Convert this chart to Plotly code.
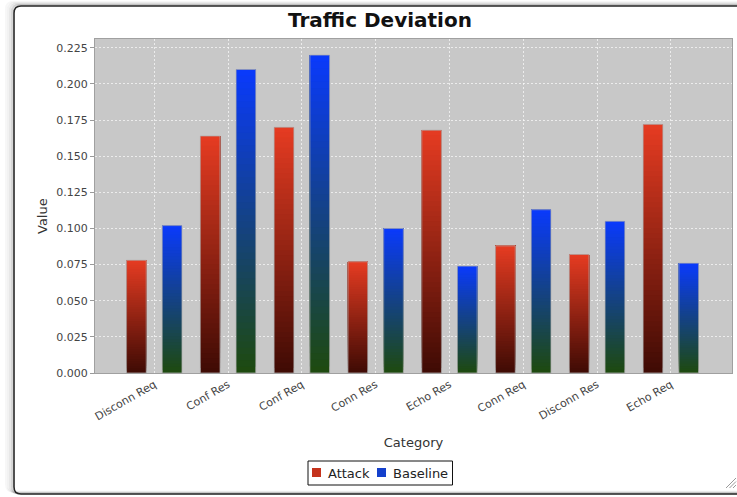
import plotly.graph_objects as go

# ---------------- data ----------------
categories = ["Disconn Req", "Conf Res", "Conf Req", "Conn Res",
              "Echo Res", "Conn Req", "Disconn Res", "Echo Req"]
attack = [0.078, 0.164, 0.170, 0.077, 0.168, 0.088, 0.082, 0.172]
baseline = [0.102, 0.210, 0.220, 0.100, 0.074, 0.113, 0.105, 0.076]
series_names = ["Attack", "Baseline"]

# ---------------- style ----------------
W, H = 737, 497
ML, MR, MT, MB = 95, 5, 39, 124
PW, PH = W - ML - MR, H - MT - MB
FONT = "DejaVu Sans"

grad = {
    "Attack": ((62, 10, 4), (230, 60, 34)),      # bottom, top
    "Baseline": ((30, 74, 14), (10, 58, 252)),
}
offsets = {"Attack": -0.376, "Baseline": 0.108}
BAR_W = 0.267
NSEG = 48


def lerp(c0, c1, t):
    return "rgb(%d,%d,%d)" % tuple(round(a + (b - a) * t) for a, b in zip(c0, c1))


def px(x):
    return (x - ML) / PW


def py(y):
    return (H - MB - y) / PH


fig = go.Figure()

for name, vals in zip(series_names, [attack, baseline]):
    c_bot, c_top = grad[name]
    for k in range(NSEG):
        f = k / NSEG
        fig.add_trace(go.Bar(
            x=categories,
            y=[v * (1 - f) for v in vals],
            base=[v * f for v in vals],
            width=BAR_W, offset=offsets[name],
            marker=dict(color=lerp(c_bot, c_top, (k + 0.5) / NSEG), line=dict(width=0)),
            showlegend=False, hoverinfo="skip", name=name,
        ))
    fig.add_trace(go.Bar(
        x=categories, y=vals, width=BAR_W, offset=offsets[name],
        marker=dict(color="rgba(0,0,0,0)", line=dict(color="rgba(175,175,175,0.75)", width=1)),
        showlegend=False, name=name,
    ))

# ---------------- frame / decorations ----------------
shapes = []


def rrect(x0, y0, x1, y1, r, color, width):
    path = (f"M {px(x0 + r)},{py(y0)} L {px(x1 - r)},{py(y0)} "
            f"Q {px(x1)},{py(y0)} {px(x1)},{py(y0 + r)} "
            f"L {px(x1)},{py(y1 - r)} Q {px(x1)},{py(y1)} {px(x1 - r)},{py(y1)} "
            f"L {px(x0 + r)},{py(y1)} Q {px(x0)},{py(y1)} {px(x0)},{py(y1 - r)} "
            f"L {px(x0)},{py(y0 + r)} Q {px(x0)},{py(y0)} {px(x0 + r)},{py(y0)} Z")
    return dict(type="path", xref="paper", yref="paper", path=path,
                line=dict(color=color, width=width), fillcolor="rgba(0,0,0,0)", layer="below")


for d, a in [(8, 0.03), (6, 0.05), (4, 0.09), (2, 0.16)]:
    shapes.append(rrect(14 - d, 6 - d * 0.5, 760, 494 - d * 0.3, 7, f"rgba(0,0,0,{a})", 2))
shapes.append(rrect(14, 6, 760, 494, 7, "#262626", 1.6))

# resize grip
for i in range(3):
    shapes.append(dict(type="line", xref="paper", yref="paper",
                       x0=px(726 + i * 3.5), y0=py(488), x1=px(736), y1=py(478 + i * 3.5),
                       line=dict(color="#9a9a9a", width=1)))

# manual legend
shapes.append(dict(type="rect", xref="paper", yref="paper",
                   x0=px(308), x1=px(452.5), y0=py(461), y1=py(485),
                   line=dict(color="#111111", width=1), fillcolor="white"))
shapes.append(dict(type="rect", xref="paper", yref="paper",
                   x0=px(312), x1=px(321), y0=py(468), y1=py(477),
                   line=dict(width=0), fillcolor="#c4321c"))
shapes.append(dict(type="rect", xref="paper", yref="paper",
                   x0=px(377), x1=px(386), y0=py(468), y1=py(477),
                   line=dict(width=0), fillcolor="#1440cc"))

annotations = [
    dict(text=series_names[0], xref="paper", yref="paper", x=px(325.5), y=py(473),
         xanchor="left", yanchor="middle", showarrow=False,
         font=dict(family=FONT, size=13, color="#222222")),
    dict(text=series_names[1], xref="paper", yref="paper", x=px(390.5), y=py(473),
         xanchor="left", yanchor="middle", showarrow=False,
         font=dict(family=FONT, size=13, color="#222222")),
    dict(text="Value", xref="paper", yref="paper", x=px(42), y=py(216),
         xanchor="center", yanchor="middle", textangle=-90, showarrow=False,
         font=dict(family=FONT, size=13, color="#333333")),
]

grid = dict(showgrid=True, gridcolor="rgba(255,255,255,0.65)", gridwidth=1, griddash="2px,2px")

fig.update_layout(
    width=W, height=H,
    margin=dict(l=ML, r=MR, t=MT, b=MB, autoexpand=False),
    paper_bgcolor="white", plot_bgcolor="#c8c8c8",
    barmode="overlay",
    showlegend=False,
    title=dict(text="Traffic Deviation", x=px(380), xref="paper", xanchor="center",
               y=1 - 20 / H, yref="container", yanchor="middle",
               font=dict(family=FONT, size=20, color="#111111", weight="bold")),
    font=dict(family=FONT),
    xaxis=dict(type="category", range=[-0.8035, 7.828], tickangle=-30,
               tickfont=dict(family=FONT, size=11, color="#444444"),
               showline=True, linecolor="#a0a0a0", linewidth=1, mirror=True,
               ticks="", automargin=False,
               title=dict(text="Category", font=dict(family=FONT, size=13, color="#333333")),
               **grid),
    yaxis=dict(range=[0, 0.2311], tick0=0, dtick=0.025, tickformat=".3f",
               tickfont=dict(family=FONT, size=11, color="#444444"),
               ticks="outside", ticklen=4, tickcolor="#999999",
               showline=True, linecolor="#a0a0a0", linewidth=1, mirror=True,
               zeroline=False, automargin=False,
               **grid),
    shapes=shapes,
    annotations=annotations,
)

fig.write_html("out.html")
